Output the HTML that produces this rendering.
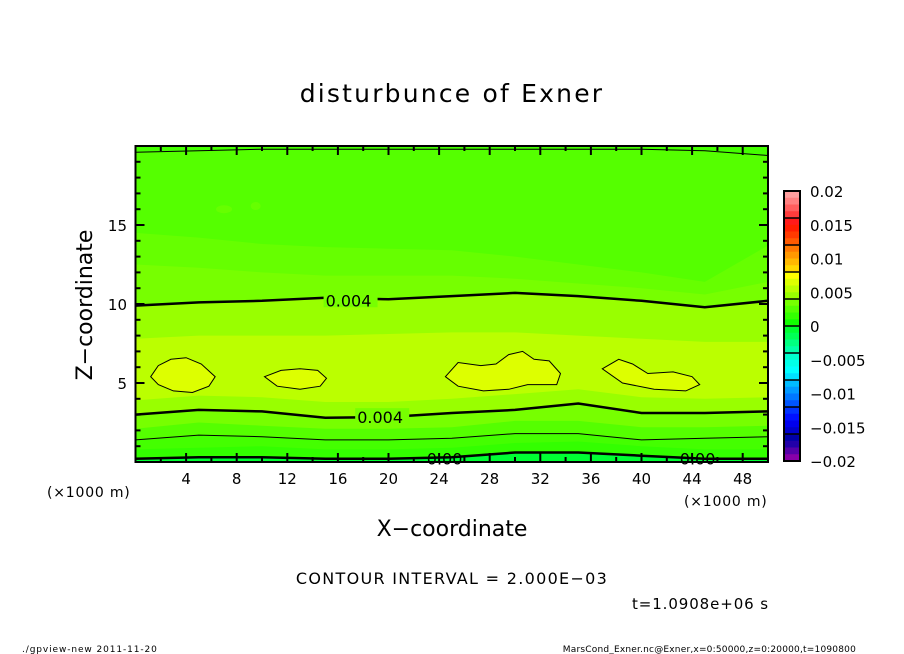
<!DOCTYPE html>
<html><head><meta charset="utf-8">
<style>
html,body{margin:0;padding:0;background:#fff;}
svg{display:block;font-family:"DejaVu Sans","Liberation Sans",sans-serif;}
</style></head>
<body>
<svg id="chart" width="904" height="654" viewBox="0 0 904 654" xmlns="http://www.w3.org/2000/svg">
<rect width="904" height="654" fill="#fff"/>
<text x="452" y="102" font-size="25" letter-spacing="2.2" text-anchor="middle">disturbunce of Exner</text>
<g id="plot"></g>
<g id="axes"></g>
<g id="cbar"></g>
<text x="452" y="536" font-size="22" text-anchor="middle">X−coordinate</text>
<text transform="translate(92,305) rotate(-90)" font-size="22" text-anchor="middle">Z−coordinate</text>
<text x="47" y="497" font-size="14" letter-spacing="0.8">(×1000 m)</text>
<text x="684" y="506" font-size="14" letter-spacing="0.8">(×1000 m)</text>
<text x="452" y="584" font-size="16" letter-spacing="1.3" text-anchor="middle">CONTOUR INTERVAL = 2.000E−03</text>
<text x="769" y="609" font-size="15" letter-spacing="0.9" text-anchor="end">t=1.0908e+06 s</text>
<text x="22" y="652" font-size="9" letter-spacing="0.9">./gpview-new   2011-11-20</text>
<text x="856" y="652" font-size="9" letter-spacing="0.2" text-anchor="end">MarsCond_Exner.nc@Exner,x=0:50000,z=0:20000,t=1090800</text>
</svg>
<script>
// ---- data ----
const xSamples = [0,5,10,15,20,25,30,35,40,45,50];
const b0  = [0.2,0.3,0.3,0.2,0.2,0.3,0.6,0.6,0.4,0.2,0.2];
const b1  = [0.8,0.9,1.0,0.8,0.8,0.9,1.2,1.3,1.0,0.8,0.8];
const b2  = [1.4,1.7,1.6,1.4,1.4,1.5,1.8,1.8,1.4,1.5,1.6];
const b3  = [2.1,2.5,2.3,2.1,2.1,2.2,2.6,2.6,2.2,2.2,2.3];
const b4  = [3.0,3.3,3.2,2.8,2.85,3.1,3.3,3.7,3.1,3.1,3.2];
const b5  = [3.9,4.2,4.1,3.8,3.8,4.0,4.3,4.6,4.1,4.0,4.1];
const b6  = [7.8,8.0,8.0,8.0,8.1,8.2,8.2,8.0,7.8,7.6,7.6];
const b7  = [9.9,10.1,10.2,10.4,10.3,10.5,10.7,10.5,10.2,9.8,10.2];
const b8  = [12.5,12.3,12.0,11.8,11.8,11.8,11.6,11.3,11.0,10.6,11.4];
const b9  = [14.5,14.2,13.8,13.6,13.5,13.4,13.0,12.5,12.0,11.4,13.7];
const b10 = [19.6,19.7,19.8,19.8,19.8,19.8,19.8,19.8,19.8,19.7,19.4];
const blob1x = [1.2,1.8,2.8,4.0,5.2,6.3,5.8,4.5,3.0,1.8];
const blob1z = [5.4,6.1,6.5,6.6,6.2,5.4,4.8,4.4,4.5,4.9];
const blob2x = [10.2,11.5,13.0,14.4,15.1,14.6,13.0,11.2];
const blob2z = [5.4,5.8,5.9,5.8,5.3,4.8,4.6,4.8];
const blob3x = [24.5,25.5,27.3,28.5,29.5,30.6,31.5,32.7,33.6,33.3,31.0,29.5,27.5,25.5];
const blob3z = [5.4,6.3,6.1,6.2,6.8,7.0,6.5,6.4,5.6,4.9,4.9,4.6,4.5,4.8];
const blob4x = [36.9,38.2,39.3,40.5,42.5,44.0,44.6,43.5,41.0,38.5];
const blob4z = [5.9,6.5,6.2,5.6,5.7,5.4,4.9,4.5,4.6,5.0];
const xTicks = [4,8,12,16,20,24,28,32,36,40,44,48];
const zTicks = [5,10,15];
const cbarLabels = [0.02,0.015,0.01,0.005,0,-0.005,-0.01,-0.015,-0.02];
const cbarLabelText = ['0.02','0.015','0.01','0.005','0','−0.005','−0.01','−0.015','−0.02'];
const cbarColors = ['#ff9e9e','#ff8080','#ff5e5e','#ff3c3c','#ff1a1a','#ff1e00','#ff3a00','#ff5a00','#ff7800','#ff9800','#ffb800','#ffd800','#ffff00','#ddff00','#bbff00','#99ff00','#77ff00','#55ff00','#33ff00','#11ff00','#00ff30','#00ff55','#00ff80','#00ffa8','#00ffcc','#00ffe8','#00ffff','#00e0ff','#00bbff','#0099ff','#0077ff','#0055ff','#0033ff','#0011ff','#0000ee','#0000cc','#0000a8','#2200a8','#5500a8','#8800a8'];
// ---- axes ----
const X0=135.5,X1=768,Y0=462,Y1=146;
const sx=x=>X0+(x/50)*(X1-X0);
const sy=z=>Y0-(z/20)*(Y0-Y1);
const NS='http://www.w3.org/2000/svg';
function mk(tag,attrs,parent){const e=document.createElementNS(NS,tag);for(const k in attrs)e.setAttribute(k,attrs[k]);parent.appendChild(e);return e;}
const plot=document.getElementById('plot'),axes=document.getElementById('axes'),cbar=document.getElementById('cbar');
const line=arr=>xSamples.map((x,i)=>`${sx(x).toFixed(1)},${sy(arr[i]).toFixed(1)}`);
let r=mk('rect',{x:X0,y:Y1,width:X1-X0,height:Y0-Y1,fill:'#bbff00'},plot);


const lower=[b5,b4,b3,b2,b1,b0], lowerCol=['#99ff00','#77ff00','#55ff00','#44ff00','#33ff00','#00ff33'];
lower.forEach((b,i)=>{
  const p=mk('polygon',{points:[`${X0},${Y0}`,...line(b),`${X1},${Y0}`].join(' '),fill:lowerCol[i]},plot);
  
  
});
const upper=[b6,b7,b8,b9,b10], upperCol=['#99ff00','#77ff00','#66ff00','#55ff00','#44ff00'];
upper.forEach((b,i)=>{
  const p=mk('polygon',{points:[`${X0},${Y1}`,...line(b),`${X1},${Y1}`].join(' '),fill:upperCol[i]},plot);
  
  
});
[[7,16],[9.5,16.2]].forEach(([x,z],i)=>{
  const e=mk('ellipse',{cx:sx(x),cy:sy(z),rx:i?5:8,ry:4,fill:'#66ff00'},plot);
  
  
});
[[blob1x,blob1z],[blob2x,blob2z],[blob3x,blob3z],[blob4x,blob4z]].forEach(([bx,bz],i)=>{
  const p=mk('polygon',{points:bx.map((x,j)=>`${sx(x).toFixed(1)},${sy(bz[j]).toFixed(1)}`).join(' '),fill:'#ddff00',stroke:'#000','stroke-width':1},plot);
  
  
});
[[b0,2.5,'0.000'],[b2,1,'0.002'],[b4,2.5,'0.004-low'],[b7,2.5,'0.004-high'],[b10,1,'0.002-top']].forEach(([b,w,n])=>{
  const p=mk('polyline',{points:line(b).join(' '),fill:'none',stroke:'#000','stroke-width':w},plot);
  
  
});
[[15.5,10.3,'0.004','#77ff00'],[18,2.9,'0.004','#77ff00'],[23.5,0.3,'0.00',null],[43.5,0.3,'0.00',null]].forEach(([x,z,t,c],i)=>{
  if(c){const bg=mk('rect',{x:sx(x)-8,y:sy(z)-8,width:t.length*10+4,height:16,fill:c},plot);
  
  }
  const e=mk('text',{x:sx(x)-6,y:sy(z)+7,'font-size':16},plot);e.textContent=t;
  
  
});
let f=mk('rect',{x:X0,y:Y1,width:X1-X0,height:Y0-Y1,fill:'none',stroke:'#000','stroke-width':2},axes);


for(let x=2;x<50;x+=2){const L=(x%4===0)?9:5;
  mk('line',{x1:sx(x),x2:sx(x),y1:Y0,y2:Y0-L,stroke:'#000','stroke-width':2},axes);
  mk('line',{x1:sx(x),x2:sx(x),y1:Y1,y2:Y1+L,stroke:'#000','stroke-width':2},axes);}
for(let z=1;z<20;z++){const L=(z%5===0)?9:5;
  mk('line',{x1:X0,x2:X0+L,y1:sy(z),y2:sy(z),stroke:'#000','stroke-width':2},axes);
  mk('line',{x1:X1,x2:X1-L,y1:sy(z),y2:sy(z),stroke:'#000','stroke-width':2},axes);}
xTicks.forEach(x=>{const t=mk('text',{x:sx(x),y:484,'font-size':15,'text-anchor':'middle'},axes);t.textContent=x;
  
  });
zTicks.forEach(z=>{const t=mk('text',{x:127,y:sy(z)+6,'font-size':15,'text-anchor':'end'},axes);t.textContent=z;
  
  });
const CX=784,CW=16,CT=191,CB=461,vmax=0.02,vmin=-0.02;
const cy=v=>CT+(vmax-v)/(vmax-vmin)*(CB-CT);
const n=cbarColors.length,h=(CB-CT)/n;
cbarColors.forEach((c,i)=>{const s=mk('rect',{x:CX,y:CT+i*h,width:CW,height:h+0.5,fill:c},cbar);
  
  });
for(let g=1;g<10;g++)mk('line',{x1:CX,x2:CX+CW,y1:CT+g*4*h,y2:CT+g*4*h,stroke:'#000','stroke-width':1.5},cbar);
mk('rect',{x:CX,y:CT,width:CW,height:CB-CT,fill:'none',stroke:'#000','stroke-width':2},cbar);
cbarLabels.forEach((v,i)=>{const t=mk('text',{x:810,y:cy(v)+6,'font-size':15},cbar);t.textContent=cbarLabelText[i];
  
  });
</script>
</body></html>
